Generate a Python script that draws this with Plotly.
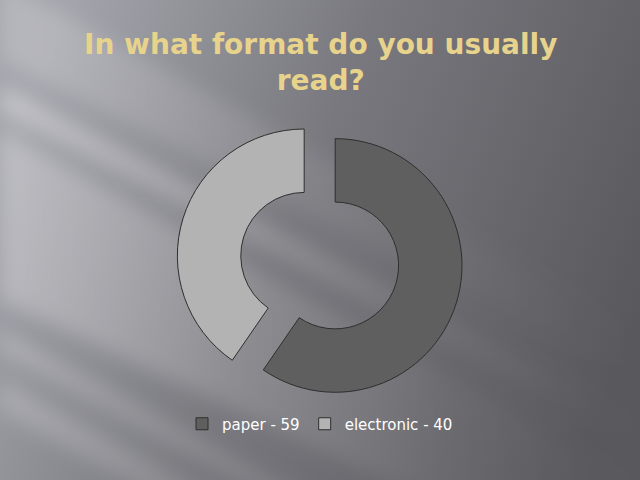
import base64
import plotly.graph_objects as go

# survey answers
labels = ["paper - 59", "electronic - 40"]
values = [59, 40]
slice_colors = ["#5f5f5f", "#b3b3b3"]

title_text = "In what format do you usually<br>read?"

# background: grey slide gradient with soft diagonal light streaks
bg_svg = """<svg xmlns="http://www.w3.org/2000/svg" width="640" height="480" viewBox="0 0 640 480">
<defs>
<linearGradient id="base" x1="0" y1="0.35" x2="1" y2="0.65">
<stop offset="0" stop-color="#a4a4ac"/>
<stop offset="0.45" stop-color="#78787e"/>
<stop offset="1" stop-color="#58585d"/>
</linearGradient>
<linearGradient id="fade" x1="0" y1="0" x2="1" y2="0">
<stop offset="0" stop-color="#ffffff" stop-opacity="0.4"/>
<stop offset="0.7" stop-color="#ffffff" stop-opacity="0.06"/>
<stop offset="1" stop-color="#ffffff" stop-opacity="0"/>
</linearGradient>
<filter id="blur"><feGaussianBlur stdDeviation="10"/></filter>
</defs>
<rect width="640" height="480" fill="url(#base)"/>
<g filter="url(#blur)" fill="url(#fade)">
<polygon points="0,130 640,480 640,600 0,300" opacity="0.7"/>
<polygon points="0,-20 640,330 640,380 0,60" opacity="0.5"/>
<polygon points="0,85 640,420 640,445 0,110" opacity="0.9"/>
<polygon points="0,330 640,680 640,700 0,350" opacity="0.6"/>
<polygon points="0,380 640,730 640,760 0,410" opacity="0.5"/>
</g>
</svg>"""
bg_uri = "data:image/svg+xml;base64," + base64.b64encode(bg_svg.encode()).decode()

fig = go.Figure(go.Pie(
    labels=labels,
    values=values,
    hole=0.5,
    sort=False,
    direction="clockwise",
    rotation=0,
    pull=[0.128, 0.128],
    textinfo="none",
    marker=dict(colors=slice_colors, line=dict(color="#2e2e2e", width=1)),
    domain=dict(x=[0.276, 0.723], y=[0.159, 0.755]),
))

fig.add_annotation(
    text=title_text, x=0.5, y=1 - 26 / 480, xref="paper", yref="paper",
    xanchor="center", yanchor="top", showarrow=False,
    font=dict(family="DejaVu Sans", size=28, color="#e8d38c", weight="bold"),
)

fig.update_layout(
    width=640, height=480,
    margin=dict(l=0, r=0, t=0, b=0),
    paper_bgcolor="#6e6e74",
    images=[dict(source=bg_uri, xref="paper", yref="paper", x=0, y=1,
                 sizex=1, sizey=1, sizing="stretch", layer="below")],
    showlegend=True,
    legend=dict(orientation="h", x=0.5, xanchor="center", y=1 - 424 / 480, yanchor="middle",
                font=dict(family="DejaVu Sans", size=15, color="#ffffff"),
                bgcolor="rgba(0,0,0,0)"),
)

# drop the page's default body margin so the slide fills the window
fig.write_html("out.html", config={"displayModeBar": False},
               post_script="document.body.style.margin='0';")
